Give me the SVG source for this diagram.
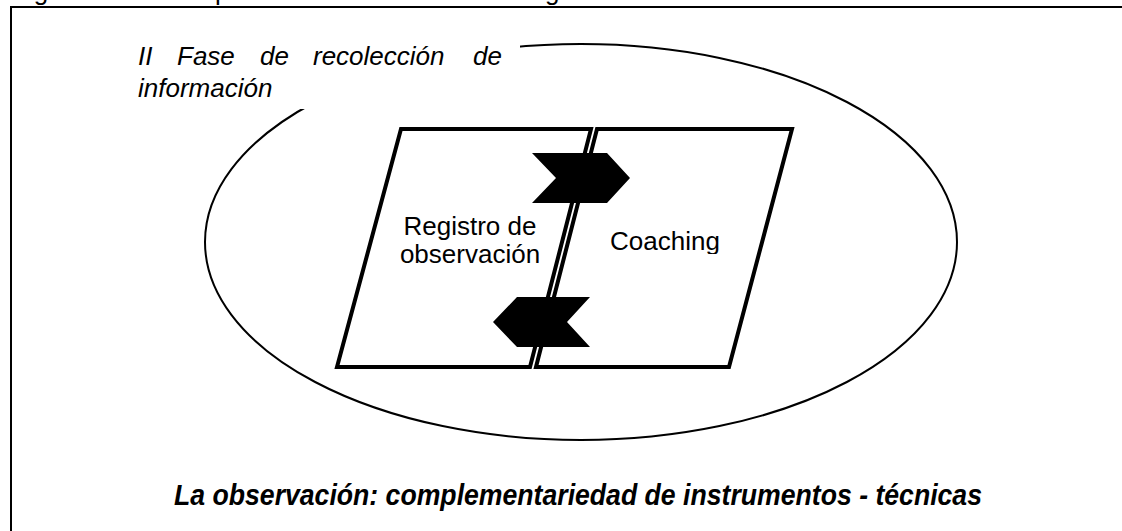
<svg xmlns="http://www.w3.org/2000/svg" width="1122" height="531" viewBox="0 0 1122 531">
  <defs>
    <style>
      .t { font-family: "Liberation Sans", Arial, sans-serif; fill: #000; }
      .lab { font-size: 26px; }
      .para { fill: #fff; stroke: #000; stroke-width: 4; stroke-linejoin: miter; }
      .chev { fill: #000; stroke: none; }
      .thin { fill: none; stroke: #000; stroke-width: 2; }
    </style>
    <clipPath id="coachClip">
      <rect x="590" y="200" width="160" height="54"/>
    </clipPath>
  </defs>
  <rect width="1122" height="531" fill="#fff"/>

  <!-- caption above the frame, cut off by the top edge as in the reference -->
  <text class="t" font-size="26" y="-0.5">
    <tspan x="12">Figura N° 6:</tspan>
    <tspan x="160">Complementariedad</tspan>
    <tspan x="438">metodológica: Fase de recolección de información</tspan>
  </text>

  <!-- frame -->
  <g id="frame">
    <path class="thin" d="M11,531 L11,7 L1122,7"/>
  </g>

  <!-- ellipse -->
  <g id="ellipse">
    <ellipse class="thin" cx="581" cy="242" rx="376" ry="198"/>
  </g>

  <!-- title -->
  <g id="title">
    <rect x="120" y="25" width="400" height="84" fill="#fff"/>
    <text class="t lab" font-style="italic" y="65">
      <tspan x="138">II</tspan>
      <tspan x="177">Fase</tspan>
      <tspan x="260">de</tspan>
      <tspan x="313">recolección</tspan>
      <tspan x="473">de</tspan>
    </text>
    <text class="t lab" font-style="italic" x="138" y="97">información</text>
  </g>

  <g id="registro">
    <polygon class="para" points="401,129 591,129 530,367 337,367"/>
    <text class="t lab" text-anchor="middle" x="470" y="235">Registro de</text>
    <text class="t lab" text-anchor="middle" x="470" y="263">observación</text>
  </g>

  <g id="coaching">
    <polygon class="para" points="597,129 792,129 729,367 536,367"/>
    <text class="t lab" x="610" y="250" clip-path="url(#coachClip)">Coaching</text>
  </g>

  <g id="connectors">
    <polygon class="chev" points="532,153 607,153 630,178 607,203 532,203 556,178"/>
    <polygon class="chev" points="517,297 590,297 567,322 590,347 517,347 493,322"/>
  </g>

  <g id="caption">
    <text class="t" font-size="29" font-weight="bold" font-style="italic" x="174" y="505" textLength="808" lengthAdjust="spacingAndGlyphs">La observación: complementariedad de instrumentos - técnicas</text>
  </g>
</svg>
